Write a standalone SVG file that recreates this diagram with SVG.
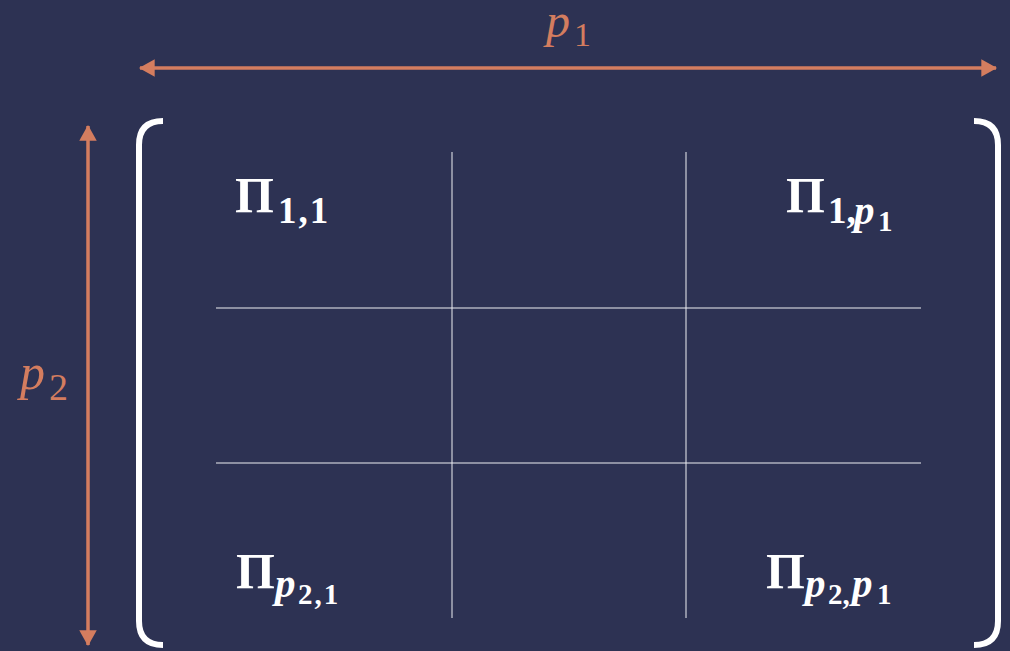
<svg xmlns="http://www.w3.org/2000/svg" width="1010" height="651" viewBox="0 0 1010 651">
<defs>
<marker id="ah" markerWidth="5" markerHeight="5" refX="4.2" refY="2.5" orient="auto-start-reverse" markerUnits="strokeWidth">
<path d="M0,0 L4.5,2.5 L0,5 Z" fill="#d47d5f"/>
</marker>
<style>
.dim{stroke:#d47d5f;stroke-width:3.5;fill:none}
.dl{fill:#d47d5f;font-family:"Liberation Serif",serif}
.grid{stroke:#eeeef3;stroke-width:1;fill:none}
.br{stroke:#ffffff;stroke-width:6;fill:none;stroke-linecap:butt}
.pi{fill:#ffffff;font-family:"Liberation Serif",serif;font-weight:bold}
.it{font-style:italic}
</style>
</defs>
<rect width="1010" height="651" fill="#2d3253"/>
<g id="connectors">
<line class="dim" x1="140" y1="68" x2="996" y2="68" marker-start="url(#ah)" marker-end="url(#ah)"/>
<line class="dim" x1="88" y1="126" x2="88" y2="645" marker-start="url(#ah)" marker-end="url(#ah)"/>
</g>
<g id="dim-labels">
<text class="dl" x="546" y="37" font-size="48"><tspan class="it">p</tspan></text>
<text class="dl" x="574" y="46" font-size="34">1</text>
<text class="dl" x="20" y="389" font-size="50"><tspan class="it">p</tspan></text>
<text class="dl" x="49" y="400" font-size="38">2</text>
</g>
<g id="brackets">
<path class="br" d="M163,121 Q139,121 139,145 L139,621 Q139,645 163,645"/>
<path class="br" d="M974,121 Q998,121 998,145 L998,621 Q998,645 974,645"/>
</g>
<g id="grid">
<line class="grid" x1="452" y1="152" x2="452" y2="618"/>
<line class="grid" x1="686" y1="152" x2="686" y2="618"/>
<line class="grid" x1="216" y1="308" x2="921" y2="308"/>
<line class="grid" x1="216" y1="463" x2="921" y2="463"/>
</g>
<g id="pi11">
<text class="pi" x="235" y="212" font-size="50">Π</text>
<text class="pi" x="278" y="223" font-size="37" letter-spacing="2">1,1</text>
</g>
<g id="pi1p1">
<text class="pi" x="786" y="212" font-size="50">Π</text>
<text class="pi" x="828" y="223" font-size="37">1,</text>
<text class="pi it" x="854" y="224" font-size="41">p</text>
<text class="pi" x="878" y="231" font-size="29">1</text>
</g>
<g id="pip21">
<text class="pi" x="236" y="588" font-size="50">Π</text>
<text class="pi it" x="275" y="597" font-size="41">p</text>
<text class="pi" x="298" y="604" font-size="29" letter-spacing="2">2,1</text>
</g>
<g id="pip2p1">
<text class="pi" x="766" y="588" font-size="50">Π</text>
<text class="pi it" x="805" y="597" font-size="41">p</text>
<text class="pi" x="828" y="604" font-size="29">2,</text>
<text class="pi it" x="852" y="597" font-size="41">p</text>
<text class="pi" x="877" y="604" font-size="29">1</text>
</g>
</svg>
